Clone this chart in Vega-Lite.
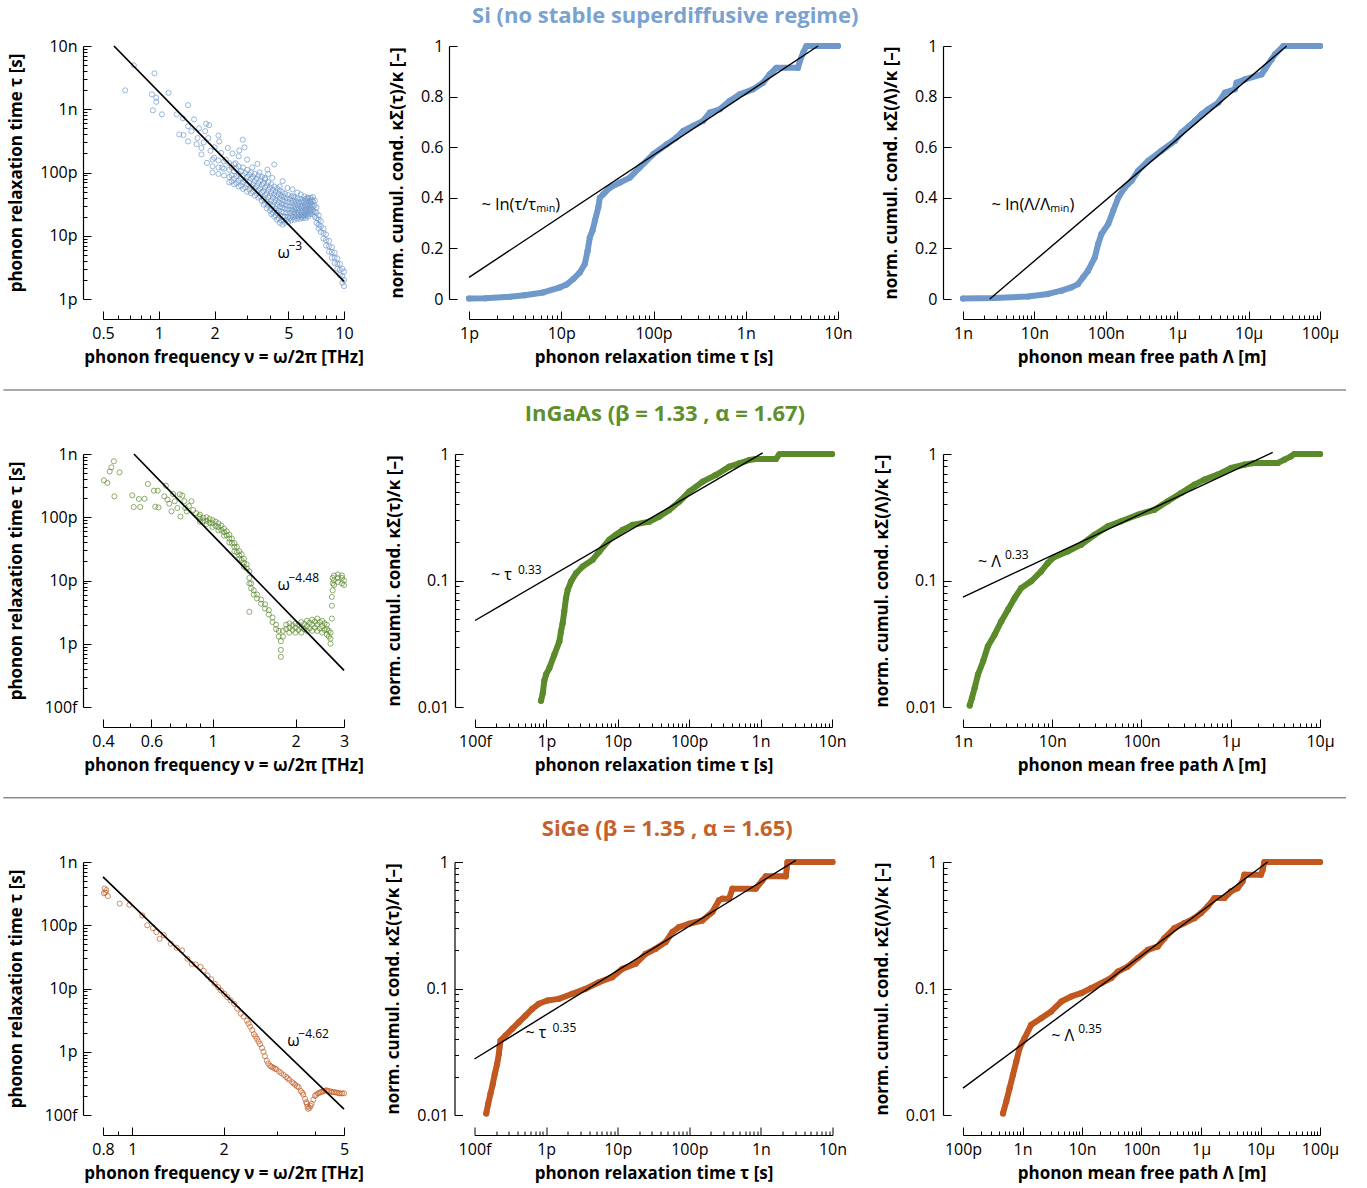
{
"$schema":"https://vega.github.io/schema/vega-lite/v6.json",
"background":"white",
"padding":{"left":2,"top":4,"right":0,"bottom":10},
"config":{
 "font":"Open Sans",
 "view":{"stroke":null},
 "axis":{"offset":20,"grid":false,"domainColor":"black","domainWidth":1.2,"tickColor":"black","tickWidth":1,"tickSize":-8,
  "labelFont":"Open Sans","labelFontSize":16,"labelColor":"black","labelPadding":14,"labelFlush":false,"labelOverlap":false,"labelBound":false,
  "titleFont":"Open Sans","titleFontSize":17,"titleFontWeight":"bold","titleColor":"black","titlePadding":8},
 "axisY":{"titlePadding":14},
 "text":{"font":"Open Sans","color":"black"}
},
"datasets":{
 "si_tau":[
  {"x":0.659,"y":1.99e-9},{"x":0.734,"y":4.94e-9},{"x":0.948,"y":3.69e-9},{"x":0.918,"y":1.72e-9},{"x":0.969,"y":1.52e-9},{"x":0.97,"y":1.31e-9},{"x":0.93,"y":9.6e-10},{"x":1.04,"y":8.3e-10},{"x":1.13,"y":1.82e-9},{"x":1.25,"y":8.3e-10},{"x":1.44,"y":1.16e-9},{"x":1.35,"y":7.2e-10},{"x":1.55,"y":6.9e-10},{"x":1.44,"y":5.4e-10},{"x":1.29,"y":4.0e-10},{"x":1.36,"y":3.9e-10},{"x":1.44,"y":3.1e-10},{"x":1.80,"y":5.9e-10},{"x":1.87,"y":5.6e-10},{"x":1.78,"y":4.5e-10},{"x":1.85,"y":3.5e-10},{"x":1.62,"y":3.5e-10},{"x":2.10,"y":3.85e-10},{"x":2.12,"y":3.1e-10},{"x":2.84,"y":3.3e-10},{"x":2.36,"y":2.45e-10},{"x":2.17,"y":2.04e-10},{"x":1.70,"y":2.45e-10},{"x":1.70,"y":1.93e-10},{"x":1.82,"y":1.42e-10},{"x":1.99,"y":1.71e-10},{"x":2.72,"y":2.23e-10},{"x":2.70,"y":1.8e-10},{"x":3.41,"y":1.37e-10},{"x":3.86,"y":1.11e-10},{"x":4.20,"y":1.34e-10},{"x":4.66,"y":7.3e-11},{"x":4.95,"y":5.7e-11},{"x":5.27,"y":5.4e-11},{"x":5.33,"y":4.2e-11},{"x":5.85,"y":4.5e-11},{"x":6.35,"y":4.0e-11},{"x":3.74,"y":8.2e-11},{"x":4.10,"y":8.2e-11},{"x":1.6,"y":2.8e-10},{"x":1.75,"y":3.0e-10},{"x":2.0,"y":2.5e-10},{"x":2.3,"y":1.6e-10},{"x":2.5,"y":2.0e-10},{"x":2.6,"y":1.4e-10},{"x":3.0,"y":1.6e-10},{"x":3.2,"y":1.2e-10},{"x":3.5,"y":1.0e-10},{"x":2.9,"y":2.5e-10},{"x":1.9,"y":2.2e-10},{"x":2.2,"y":1.2e-10},{"x":1.5,"y":4.5e-10},{"x":1.65,"y":5.0e-10},{"x":5.6,"y":4.8e-11},{"x":6.1,"y":4.2e-11},{"x":4.5,"y":6.0e-11},{"x":3.9,"y":9.5e-11},
  {"x":1.95,"y":1.6e-10},{"x":1.95,"y":1.25e-10},{"x":1.95,"y":1.0e-10},
  {"x":2.1,"y":1.55e-10},{"x":2.1,"y":1.2e-10},{"x":2.1,"y":9.5e-11},
  {"x":2.25,"y":1.5e-10},{"x":2.25,"y":1.15e-10},{"x":2.25,"y":9e-11},
  {"x":2.4,"y":1.4e-10},{"x":2.4,"y":1.1e-10},{"x":2.4,"y":8.5e-11},{"x":2.4,"y":7e-11},
  {"x":2.55,"y":1.35e-10},{"x":2.55,"y":1.05e-10},{"x":2.55,"y":8e-11},{"x":2.55,"y":6.5e-11},
  {"x":2.7,"y":1.25e-10},{"x":2.7,"y":9.5e-11},{"x":2.7,"y":7.5e-11},{"x":2.7,"y":6e-11},
  {"x":2.85,"y":1.2e-10},{"x":2.85,"y":9e-11},{"x":2.85,"y":7e-11},{"x":2.85,"y":5.5e-11},
  {"x":3.0,"y":1.1e-10},{"x":3.0,"y":8.5e-11},{"x":3.0,"y":6.5e-11},{"x":3.0,"y":5e-11},
  {"x":3.15,"y":1.0e-10},{"x":3.15,"y":8e-11},{"x":3.15,"y":6e-11},{"x":3.15,"y":4.7e-11},
  {"x":3.3,"y":9.5e-11},{"x":3.3,"y":7.3e-11},{"x":3.3,"y":5.6e-11},{"x":3.3,"y":4.3e-11},
  {"x":3.45,"y":9e-11},{"x":3.45,"y":6.8e-11},{"x":3.45,"y":5.2e-11},{"x":3.45,"y":4e-11},
  {"x":3.6,"y":8.5e-11},{"x":3.6,"y":6.3e-11},{"x":3.6,"y":4.8e-11},{"x":3.6,"y":3.6e-11},
  {"x":3.75,"y":7.8e-11},{"x":3.75,"y":5.8e-11},{"x":3.75,"y":4.4e-11},{"x":3.75,"y":3.3e-11},
  {"x":3.9,"y":7e-11},{"x":3.9,"y":5.3e-11},{"x":3.9,"y":4e-11},{"x":3.9,"y":3.0e-11},
  {"x":4.05,"y":6.5e-11},{"x":4.05,"y":4.8e-11},{"x":4.05,"y":3.6e-11},{"x":4.05,"y":2.7e-11},{"x":4.05,"y":2.2e-11},
  {"x":4.2,"y":6e-11},{"x":4.2,"y":4.5e-11},{"x":4.2,"y":3.4e-11},{"x":4.2,"y":2.5e-11},{"x":4.2,"y":2.0e-11},
  {"x":4.35,"y":5.6e-11},{"x":4.35,"y":4.2e-11},{"x":4.35,"y":3.1e-11},{"x":4.35,"y":2.3e-11},{"x":4.35,"y":1.8e-11},
  {"x":4.5,"y":5.2e-11},{"x":4.5,"y":3.9e-11},{"x":4.5,"y":2.9e-11},{"x":4.5,"y":2.1e-11},{"x":4.5,"y":1.6e-11},
  {"x":4.65,"y":4.9e-11},{"x":4.65,"y":3.7e-11},{"x":4.65,"y":2.8e-11},{"x":4.65,"y":2.0e-11},{"x":4.65,"y":1.5e-11},
  {"x":4.8,"y":4.6e-11},{"x":4.8,"y":3.5e-11},{"x":4.8,"y":2.7e-11},{"x":4.8,"y":2.0e-11},{"x":4.8,"y":1.6e-11},
  {"x":5.0,"y":4.4e-11},{"x":5.0,"y":3.4e-11},{"x":5.0,"y":2.6e-11},{"x":5.0,"y":2.0e-11},{"x":5.0,"y":1.65e-11},
  {"x":5.2,"y":4.2e-11},{"x":5.2,"y":3.3e-11},{"x":5.2,"y":2.6e-11},{"x":5.2,"y":2.1e-11},{"x":5.2,"y":1.75e-11},
  {"x":5.4,"y":4.0e-11},{"x":5.4,"y":3.2e-11},{"x":5.4,"y":2.6e-11},{"x":5.4,"y":2.15e-11},{"x":5.4,"y":1.8e-11},
  {"x":5.6,"y":3.9e-11},{"x":5.6,"y":3.1e-11},{"x":5.6,"y":2.55e-11},{"x":5.6,"y":2.15e-11},{"x":5.6,"y":1.85e-11},
  {"x":5.8,"y":3.8e-11},{"x":5.8,"y":3.0e-11},{"x":5.8,"y":2.5e-11},{"x":5.8,"y":2.1e-11},{"x":5.8,"y":1.85e-11},
  {"x":6.0,"y":3.7e-11},{"x":6.0,"y":3.0e-11},{"x":6.0,"y":2.5e-11},{"x":6.0,"y":2.1e-11},{"x":6.0,"y":1.9e-11},
  {"x":6.2,"y":3.8e-11},{"x":6.2,"y":3.1e-11},{"x":6.2,"y":2.6e-11},{"x":6.2,"y":2.2e-11},{"x":6.2,"y":1.9e-11},
  {"x":6.4,"y":3.9e-11},{"x":6.4,"y":3.2e-11},{"x":6.4,"y":2.7e-11},{"x":6.4,"y":2.3e-11},{"x":6.4,"y":2.0e-11},
  {"x":6.6,"y":4.0e-11},{"x":6.6,"y":3.4e-11},{"x":6.6,"y":2.8e-11},{"x":6.6,"y":2.4e-11},
  {"x":6.8,"y":4.1e-11},{"x":6.8,"y":3.5e-11},{"x":6.8,"y":2.9e-11},{"x":6.8,"y":2.4e-11},
  {"x":6.95,"y":3.6e-11},{"x":6.95,"y":3.0e-11},{"x":6.95,"y":2.4e-11},{"x":6.95,"y":2.0e-11},
  {"x":7.1,"y":2.8e-11},{"x":7.1,"y":2.3e-11},{"x":7.1,"y":1.9e-11},{"x":7.1,"y":1.6e-11},
  {"x":7.3,"y":2.1e-11},{"x":7.3,"y":1.8e-11},{"x":7.3,"y":1.5e-11},{"x":7.3,"y":1.3e-11},
  {"x":7.5,"y":1.7e-11},{"x":7.5,"y":1.4e-11},{"x":7.5,"y":1.15e-11},
  {"x":7.75,"y":1.3e-11},{"x":7.75,"y":1.1e-11},{"x":7.75,"y":9e-12},
  {"x":8.0,"y":1.05e-11},{"x":8.0,"y":8.5e-12},{"x":8.0,"y":7e-12},
  {"x":8.3,"y":8.3e-12},{"x":8.3,"y":6.8e-12},{"x":8.3,"y":5.6e-12},
  {"x":8.6,"y":6.6e-12},{"x":8.6,"y":5.5e-12},{"x":8.6,"y":4.5e-12},
  {"x":8.9,"y":5.4e-12},{"x":8.9,"y":4.5e-12},{"x":8.9,"y":3.7e-12},
  {"x":9.2,"y":4.4e-12},{"x":9.2,"y":3.6e-12},{"x":9.2,"y":3.0e-12},
  {"x":9.5,"y":3.6e-12},{"x":9.5,"y":2.9e-12},{"x":9.5,"y":2.4e-12},
  {"x":9.8,"y":3.0e-12},{"x":9.8,"y":2.3e-12},{"x":9.8,"y":1.8e-12},
  {"x":10.0,"y":2.7e-12},{"x":10.0,"y":2.0e-12},{"x":10.0,"y":1.6e-12},
  {"x":2.48,"y":1.2e-10},{"x":2.48,"y":9e-11},{"x":2.48,"y":7.2e-11},
  {"x":2.62,"y":1.15e-10},{"x":2.62,"y":8.7e-11},{"x":2.62,"y":6.8e-11},
  {"x":2.78,"y":1.05e-10},{"x":2.78,"y":8e-11},{"x":2.78,"y":6.2e-11},
  {"x":2.93,"y":9.8e-11},{"x":2.93,"y":7.5e-11},{"x":2.93,"y":5.8e-11},
  {"x":3.08,"y":9.2e-11},{"x":3.08,"y":7e-11},{"x":3.08,"y":5.4e-11},
  {"x":3.23,"y":8.5e-11},{"x":3.23,"y":6.5e-11},{"x":3.23,"y":5e-11},
  {"x":3.38,"y":8e-11},{"x":3.38,"y":6.1e-11},{"x":3.38,"y":4.6e-11},
  {"x":3.53,"y":7.4e-11},{"x":3.53,"y":5.6e-11},{"x":3.53,"y":4.2e-11},
  {"x":3.68,"y":6.8e-11},{"x":3.68,"y":5.1e-11},{"x":3.68,"y":3.9e-11},{"x":3.68,"y":3.1e-11},
  {"x":3.83,"y":6.3e-11},{"x":3.83,"y":4.7e-11},{"x":3.83,"y":3.5e-11},{"x":3.83,"y":2.7e-11},
  {"x":3.98,"y":5.8e-11},{"x":3.98,"y":4.3e-11},{"x":3.98,"y":3.2e-11},{"x":3.98,"y":2.5e-11},
  {"x":4.13,"y":5.3e-11},{"x":4.13,"y":4e-11},{"x":4.13,"y":3e-11},{"x":4.13,"y":2.3e-11},
  {"x":4.28,"y":5e-11},{"x":4.28,"y":3.7e-11},{"x":4.28,"y":2.7e-11},{"x":4.28,"y":2.1e-11},
  {"x":4.43,"y":4.6e-11},{"x":4.43,"y":3.4e-11},{"x":4.43,"y":2.5e-11},{"x":4.43,"y":1.9e-11},
  {"x":4.58,"y":4.3e-11},{"x":4.58,"y":3.2e-11},{"x":4.58,"y":2.4e-11},{"x":4.58,"y":1.75e-11},
  {"x":4.73,"y":4.1e-11},{"x":4.73,"y":3.1e-11},{"x":4.73,"y":2.35e-11},{"x":4.73,"y":1.75e-11},
  {"x":4.9,"y":3.9e-11},{"x":4.9,"y":3e-11},{"x":4.9,"y":2.3e-11},{"x":4.9,"y":1.8e-11},
  {"x":5.1,"y":3.8e-11},{"x":5.1,"y":2.9e-11},{"x":5.1,"y":2.3e-11},{"x":5.1,"y":1.9e-11},
  {"x":5.3,"y":3.6e-11},{"x":5.3,"y":2.9e-11},{"x":5.3,"y":2.35e-11},{"x":5.3,"y":1.95e-11},
  {"x":5.5,"y":3.5e-11},{"x":5.5,"y":2.8e-11},{"x":5.5,"y":2.3e-11},{"x":5.5,"y":2e-11},
  {"x":5.7,"y":3.4e-11},{"x":5.7,"y":2.75e-11},{"x":5.7,"y":2.3e-11},{"x":5.7,"y":2e-11},
  {"x":5.9,"y":3.4e-11},{"x":5.9,"y":2.75e-11},{"x":5.9,"y":2.3e-11},{"x":5.9,"y":2e-11},
  {"x":6.1,"y":3.4e-11},{"x":6.1,"y":2.8e-11},{"x":6.1,"y":2.35e-11},{"x":6.1,"y":2.05e-11},
  {"x":6.3,"y":3.5e-11},{"x":6.3,"y":2.9e-11},{"x":6.3,"y":2.45e-11},{"x":6.3,"y":2.1e-11},
  {"x":6.5,"y":3.6e-11},{"x":6.5,"y":3e-11},{"x":6.5,"y":2.55e-11},{"x":6.5,"y":2.2e-11},
  {"x":6.7,"y":3.7e-11},{"x":6.7,"y":3.1e-11},{"x":6.7,"y":2.6e-11},{"x":6.7,"y":2.2e-11}
 ],
 "si_ct":[
  {"x":1e-12,"y":0.002},{"x":1.5e-12,"y":0.003},{"x":2.78e-12,"y":0.009},{"x":4e-12,"y":0.015},{"x":6.38e-12,"y":0.026},{"x":9.7e-12,"y":0.046},{"x":11.4e-12,"y":0.057},{"x":13.5e-12,"y":0.079},{"x":15.9e-12,"y":0.105},{"x":18e-12,"y":0.138},{"x":19.3e-12,"y":0.19},{"x":20.4e-12,"y":0.243},{"x":21.8e-12,"y":0.27},{"x":23.2e-12,"y":0.31},{"x":25.2e-12,"y":0.362},{"x":26.2e-12,"y":0.40},{"x":28.5e-12,"y":0.414},{"x":33.7e-12,"y":0.44},{"x":43.2e-12,"y":0.46},{"x":55.4e-12,"y":0.48},{"x":71.1e-12,"y":0.52},{"x":99e-12,"y":0.572},{"x":138e-12,"y":0.61},{"x":177e-12,"y":0.638},{"x":210e-12,"y":0.664},{"x":269e-12,"y":0.684},{"x":345e-12,"y":0.704},{"x":408e-12,"y":0.737},{"x":523e-12,"y":0.75},{"x":671e-12,"y":0.783},{"x":861e-12,"y":0.809},{"x":1.2e-9,"y":0.829},{"x":1.54e-9,"y":0.855},{"x":1.82e-9,"y":0.888},{"x":2.15e-9,"y":0.914},{"x":3.69e-9,"y":0.914},{"x":3.85e-9,"y":0.94},{"x":4.2e-9,"y":0.974},{"x":4.54e-9,"y":1.0},{"x":1e-8,"y":1.0}
 ],
 "si_cl":[
  {"x":1e-9,"y":0.002},{"x":2.78e-9,"y":0.004},{"x":8.15e-9,"y":0.01},{"x":15.5e-9,"y":0.02},{"x":23.9e-9,"y":0.033},{"x":33e-9,"y":0.046},{"x":40.9e-9,"y":0.059},{"x":48.1e-9,"y":0.086},{"x":56.5e-9,"y":0.112},{"x":70.1e-9,"y":0.164},{"x":78.1e-9,"y":0.217},{"x":86.9e-9,"y":0.257},{"x":108e-9,"y":0.296},{"x":127e-9,"y":0.349},{"x":149e-9,"y":0.40},{"x":185e-9,"y":0.441},{"x":229e-9,"y":0.467},{"x":284e-9,"y":0.507},{"x":392e-9,"y":0.546},{"x":603e-9,"y":0.586},{"x":927e-9,"y":0.625},{"x":1.15e-6,"y":0.658},{"x":1.77e-6,"y":0.704},{"x":2.19e-6,"y":0.73},{"x":2.72e-6,"y":0.75},{"x":3.76e-6,"y":0.776},{"x":4.66e-6,"y":0.816},{"x":6.43e-6,"y":0.829},{"x":6.79e-6,"y":0.855},{"x":8.89e-6,"y":0.868},{"x":15.2e-6,"y":0.888},{"x":16.9e-6,"y":0.908},{"x":21e-6,"y":0.947},{"x":23.4e-6,"y":0.967},{"x":30.6e-6,"y":1.0},{"x":1e-4,"y":1.0}
 ],
 "in_tau":[
  {"x":0.403,"y":3.84e-10},{"x":0.415,"y":3.49e-10},{"x":0.423,"y":5.3e-10},{"x":0.429,"y":6.15e-10},{"x":0.438,"y":7.66e-10},{"x":0.459,"y":5.13e-10},{"x":0.44,"y":2.14e-10},{"x":0.511,"y":2.22e-10},{"x":0.54,"y":1.94e-10},{"x":0.566,"y":1.96e-10},{"x":0.546,"y":1.45e-10},{"x":0.517,"y":1.45e-10},{"x":0.582,"y":3.36e-10},{"x":0.612,"y":2.63e-10},{"x":0.632,"y":2.63e-10},{"x":0.619,"y":1.47e-10},{"x":0.636,"y":1.43e-10},{"x":0.668,"y":2.14e-10},{"x":0.677,"y":3.16e-10},{"x":0.696,"y":1.64e-10},{"x":0.709,"y":1.24e-10},{"x":0.686,"y":1.9e-10},{"x":0.719,"y":2.33e-10},{"x":0.729,"y":1.79e-10},{"x":0.745,"y":1.4e-10},{"x":0.764,"y":1.03e-10},{"x":0.776,"y":2.2e-10},{"x":0.796,"y":1.4e-10},{"x":0.806,"y":1.24e-10},{"x":0.838,"y":1.79e-10},{"x":0.871,"y":1.16e-10},{"x":0.894,"y":1.03e-10},{"x":0.76,"y":2.3e-10},{"x":0.79,"y":1.8e-10},{"x":0.82,"y":1.5e-10},{"x":0.85,"y":1.3e-10},{"x":1.36,"y":3.2e-12},
  {"x":0.9,"y":1.1e-10},{"x":0.9,"y":9.5e-11},{"x":0.9,"y":8.5e-11},
  {"x":0.95,"y":1.0e-10},{"x":0.95,"y":8.8e-11},{"x":0.95,"y":7.8e-11},
  {"x":1.0,"y":9e-11},{"x":1.0,"y":8e-11},{"x":1.0,"y":7e-11},
  {"x":1.05,"y":8e-11},{"x":1.05,"y":7e-11},{"x":1.05,"y":6.2e-11},
  {"x":1.1,"y":6.6e-11},{"x":1.1,"y":5.8e-11},{"x":1.1,"y":5.1e-11},
  {"x":1.15,"y":5.3e-11},{"x":1.15,"y":4.6e-11},{"x":1.15,"y":4.0e-11},
  {"x":1.2,"y":3.9e-11},{"x":1.2,"y":3.4e-11},{"x":1.2,"y":2.9e-11},
  {"x":1.25,"y":2.9e-11},{"x":1.25,"y":2.5e-11},{"x":1.25,"y":2.2e-11},
  {"x":1.3,"y":2.2e-11},{"x":1.3,"y":1.9e-11},{"x":1.3,"y":1.65e-11},
  {"x":1.33,"y":1.8e-11},{"x":1.33,"y":1.55e-11},
  {"x":1.36,"y":1.4e-11},{"x":1.36,"y":1.1e-11},{"x":1.36,"y":9e-12},
  {"x":1.38,"y":9e-12},{"x":1.38,"y":7.5e-12},
  {"x":1.41,"y":7e-12},{"x":1.41,"y":6e-12},
  {"x":1.45,"y":6e-12},{"x":1.45,"y":5.2e-12},
  {"x":1.5,"y":5e-12},{"x":1.5,"y":4.3e-12},
  {"x":1.55,"y":4.2e-12},{"x":1.55,"y":3.6e-12},
  {"x":1.6,"y":3.4e-12},{"x":1.6,"y":2.9e-12},
  {"x":1.65,"y":2.6e-12},{"x":1.65,"y":2.2e-12},
  {"x":1.7,"y":2.0e-12},{"x":1.7,"y":1.7e-12},
  {"x":1.74,"y":1.6e-12},{"x":1.74,"y":1.3e-12},
  {"x":1.77,"y":1.1e-12},{"x":1.77,"y":8e-13},{"x":1.77,"y":6.2e-13},
  {"x":1.8,"y":1.3e-12},{"x":1.8,"y":1.6e-12},
  {"x":1.85,"y":1.7e-12},{"x":1.85,"y":2.0e-12},
  {"x":1.9,"y":1.8e-12},{"x":1.9,"y":2.1e-12},{"x":1.9,"y":1.5e-12},
  {"x":2.0,"y":1.8e-12},{"x":2.0,"y":2.1e-12},{"x":2.0,"y":1.5e-12},
  {"x":2.1,"y":1.8e-12},{"x":2.1,"y":2.2e-12},{"x":2.1,"y":1.5e-12},
  {"x":2.2,"y":1.9e-12},{"x":2.2,"y":2.3e-12},{"x":2.2,"y":1.6e-12},
  {"x":2.3,"y":2.0e-12},{"x":2.3,"y":2.4e-12},{"x":2.3,"y":1.6e-12},
  {"x":2.4,"y":2.0e-12},{"x":2.4,"y":2.5e-12},{"x":2.4,"y":1.6e-12},
  {"x":2.5,"y":1.9e-12},{"x":2.5,"y":2.3e-12},{"x":2.5,"y":1.5e-12},
  {"x":2.6,"y":1.7e-12},{"x":2.6,"y":2.0e-12},{"x":2.6,"y":1.4e-12},
  {"x":2.68,"y":1.2e-12},{"x":2.68,"y":1.0e-12},{"x":2.68,"y":1.5e-12},
  {"x":2.71,"y":2.5e-12},{"x":2.71,"y":4e-12},{"x":2.71,"y":5.5e-12},
  {"x":2.73,"y":7e-12},{"x":2.73,"y":9e-12},{"x":2.73,"y":1.1e-11},
  {"x":2.76,"y":1.2e-11},{"x":2.76,"y":1.0e-11},{"x":2.76,"y":8.5e-12},
  {"x":2.85,"y":1.1e-11},{"x":2.85,"y":9.5e-12},{"x":2.85,"y":1.25e-11},
  {"x":2.95,"y":1.1e-11},{"x":2.95,"y":9e-12},{"x":2.95,"y":1.2e-11},
  {"x":3.0,"y":1.0e-11},{"x":3.0,"y":8.5e-12},
  {"x":0.925,"y":9.8e-11},{"x":0.925,"y":8.6e-11},{"x":0.975,"y":9.4e-11},{"x":0.975,"y":8.2e-11},{"x":1.025,"y":8.5e-11},{"x":1.025,"y":7.3e-11},{"x":1.075,"y":7.4e-11},{"x":1.075,"y":6.3e-11},{"x":1.125,"y":6e-11},{"x":1.125,"y":5.2e-11},{"x":1.175,"y":4.6e-11},{"x":1.175,"y":3.9e-11},{"x":1.225,"y":3.4e-11},{"x":1.225,"y":2.8e-11},{"x":1.275,"y":2.6e-11},{"x":1.275,"y":2.1e-11},
  {"x":1.95,"y":1.95e-12},{"x":1.95,"y":1.65e-12},{"x":2.05,"y":2.0e-12},{"x":2.05,"y":1.65e-12},{"x":2.15,"y":2.05e-12},{"x":2.15,"y":1.7e-12},{"x":2.25,"y":2.15e-12},{"x":2.25,"y":1.75e-12},{"x":2.35,"y":2.25e-12},{"x":2.35,"y":1.8e-12},{"x":2.45,"y":2.2e-12},{"x":2.45,"y":1.75e-12},{"x":2.55,"y":2.1e-12},{"x":2.55,"y":1.65e-12},{"x":2.64,"y":1.6e-12},{"x":2.64,"y":1.3e-12}
 ],
 "in_ct":[
  {"x":0.84e-12,"y":0.0112},{"x":0.887e-12,"y":0.0127},{"x":0.935e-12,"y":0.0161},{"x":0.987e-12,"y":0.018},{"x":1.1e-12,"y":0.0203},{"x":1.29e-12,"y":0.0259},{"x":1.52e-12,"y":0.033},{"x":1.6e-12,"y":0.0396},{"x":1.69e-12,"y":0.046},{"x":1.78e-12,"y":0.057},{"x":1.88e-12,"y":0.0726},{"x":1.99e-12,"y":0.0844},{"x":2.21e-12,"y":0.098},{"x":2.6e-12,"y":0.114},{"x":3.22e-12,"y":0.129},{"x":4.45e-12,"y":0.146},{"x":5.5e-12,"y":0.169},{"x":7.6e-12,"y":0.21},{"x":9.4e-12,"y":0.23},{"x":11.7e-12,"y":0.251},{"x":16.1e-12,"y":0.275},{"x":27.7e-12,"y":0.292},{"x":38.2e-12,"y":0.32},{"x":52.7e-12,"y":0.361},{"x":72.8e-12,"y":0.421},{"x":100e-12,"y":0.504},{"x":155e-12,"y":0.605},{"x":237e-12,"y":0.683},{"x":365e-12,"y":0.794},{"x":504e-12,"y":0.844},{"x":695e-12,"y":0.897},{"x":862e-12,"y":0.913},{"x":1.64e-9,"y":0.913},{"x":1.83e-9,"y":0.994},{"x":2.04e-9,"y":1.0},{"x":1e-8,"y":1.0}
 ],
 "in_cl":[
  {"x":1.19e-9,"y":0.0103},{"x":1.26e-9,"y":0.0118},{"x":1.35e-9,"y":0.0141},{"x":1.47e-9,"y":0.018},{"x":1.68e-9,"y":0.023},{"x":1.9e-9,"y":0.0302},{"x":2.26e-9,"y":0.0373},{"x":2.68e-9,"y":0.0475},{"x":3.19e-9,"y":0.0588},{"x":3.79e-9,"y":0.0727},{"x":4.5e-9,"y":0.0873},{"x":5.8e-9,"y":0.0985},{"x":7.5e-9,"y":0.118},{"x":8.9e-9,"y":0.137},{"x":10.2e-9,"y":0.151},{"x":15e-9,"y":0.17},{"x":21.1e-9,"y":0.192},{"x":29.8e-9,"y":0.23},{"x":42e-9,"y":0.268},{"x":59e-9,"y":0.294},{"x":91e-9,"y":0.331},{"x":140e-9,"y":0.363},{"x":197e-9,"y":0.423},{"x":278e-9,"y":0.492},{"x":392e-9,"y":0.573},{"x":507e-9,"y":0.627},{"x":714e-9,"y":0.687},{"x":1.01e-6,"y":0.775},{"x":1.42e-6,"y":0.824},{"x":1.84e-6,"y":0.849},{"x":3.36e-6,"y":0.849},{"x":3.99e-6,"y":0.902},{"x":4.73e-6,"y":0.958},{"x":5.16e-6,"y":1.0},{"x":1e-5,"y":1.0}
 ],
 "sg_tau":[
  {"x":0.81,"y":3.8e-10},{"x":0.805,"y":3.2e-10},{"x":0.815,"y":3.3e-10},{"x":0.82,"y":3.6e-10},{"x":0.83,"y":2.9e-10},{"x":0.908,"y":2.2e-10},{"x":0.978,"y":2.1e-10},{"x":1.078,"y":1.43e-10},{"x":1.12,"y":1.0e-10},{"x":1.17,"y":9e-11},{"x":1.2,"y":7.8e-11},{"x":1.23,"y":6.1e-11},{"x":1.27,"y":7.0e-11},{"x":1.34,"y":5.1e-11},{"x":1.40,"y":4.4e-11},{"x":1.46,"y":4.0e-11},{"x":1.52,"y":2.95e-11},{"x":1.57,"y":2.45e-11},{"x":1.62,"y":2.4e-11},{"x":1.68,"y":2.2e-11},{"x":1.72,"y":1.9e-11},{"x":1.77,"y":1.6e-11},{"x":1.82,"y":1.4e-11},{"x":1.87,"y":1.19e-11},{"x":1.92,"y":1.05e-11},{"x":1.96,"y":9.3e-12},{"x":2.01,"y":8.3e-12},{"x":2.06,"y":7.3e-12},{"x":2.11,"y":6.5e-12},{"x":2.17,"y":5.7e-12},{"x":2.22,"y":4.8e-12},{"x":2.28,"y":4.0e-12},{"x":2.33,"y":3.6e-12},{"x":2.39,"y":3.1e-12},{"x":2.42,"y":2.8e-12},{"x":2.45,"y":2.5e-12},{"x":2.49,"y":2.2e-12},{"x":2.52,"y":1.9e-12},{"x":2.55,"y":1.75e-12},{"x":2.58,"y":1.6e-12},{"x":2.61,"y":1.45e-12},{"x":2.64,"y":1.32e-12},{"x":2.68,"y":1.15e-12},{"x":2.71,"y":1.0e-12},{"x":2.74,"y":8.5e-13},{"x":2.78,"y":7.2e-13},{"x":2.81,"y":6.5e-13},{"x":2.85,"y":6.0e-13},{"x":2.88,"y":5.8e-13},{"x":2.92,"y":5.6e-13},{"x":2.96,"y":5.4e-13},{"x":2.99,"y":5.3e-13},{"x":3.05,"y":4.9e-13},{"x":3.1,"y":4.6e-13},{"x":3.16,"y":4.3e-13},{"x":3.22,"y":4.0e-13},{"x":3.26,"y":3.8e-13},{"x":3.3,"y":3.6e-13},{"x":3.37,"y":3.3e-13},{"x":3.41,"y":3.15e-13},{"x":3.45,"y":3.0e-13},{"x":3.5,"y":2.85e-13},{"x":3.54,"y":2.75e-13},{"x":3.6,"y":2.4e-13},{"x":3.64,"y":2.25e-13},{"x":3.67,"y":2.1e-13},{"x":3.72,"y":1.8e-13},{"x":3.75,"y":1.6e-13},{"x":3.77,"y":1.5e-13},{"x":3.79,"y":1.35e-13},{"x":3.81,"y":1.25e-13},{"x":3.85,"y":1.3e-13},{"x":3.88,"y":1.4e-13},{"x":3.91,"y":1.5e-13},{"x":3.96,"y":1.75e-13},{"x":4.01,"y":2.0e-13},{"x":4.05,"y":2.1e-13},{"x":4.1,"y":2.2e-13},{"x":4.15,"y":2.25e-13},{"x":4.2,"y":2.3e-13},{"x":4.25,"y":2.35e-13},{"x":4.3,"y":2.4e-13},{"x":4.35,"y":2.45e-13},{"x":4.41,"y":2.43e-13},{"x":4.46,"y":2.38e-13},{"x":4.52,"y":2.35e-13},{"x":4.57,"y":2.3e-13},{"x":4.63,"y":2.3e-13},{"x":4.69,"y":2.28e-13},{"x":4.75,"y":2.25e-13},{"x":4.81,"y":2.2e-13},{"x":4.87,"y":2.2e-13},{"x":4.93,"y":2.2e-13},{"x":5.0,"y":2.2e-13}
 ],
 "sg_ct":[
  {"x":0.146e-12,"y":0.0103},{"x":0.155e-12,"y":0.0122},{"x":0.167e-12,"y":0.0147},{"x":0.18e-12,"y":0.0176},{"x":0.192e-12,"y":0.0211},{"x":0.207e-12,"y":0.0253},{"x":0.219e-12,"y":0.0304},{"x":0.224e-12,"y":0.0343},{"x":0.231e-12,"y":0.0388},{"x":0.271e-12,"y":0.0425},{"x":0.336e-12,"y":0.048},{"x":0.417e-12,"y":0.0542},{"x":0.517e-12,"y":0.0611},{"x":0.64e-12,"y":0.069},{"x":0.79e-12,"y":0.0757},{"x":1.04e-12,"y":0.0804},{"x":1.51e-12,"y":0.0828},{"x":2.32e-12,"y":0.0908},{"x":3.56e-12,"y":0.0994},{"x":5.47e-12,"y":0.112},{"x":8.4e-12,"y":0.123},{"x":11.6e-12,"y":0.143},{"x":17.8e-12,"y":0.157},{"x":24.6e-12,"y":0.188},{"x":33.9e-12,"y":0.206},{"x":46.8e-12,"y":0.233},{"x":58e-12,"y":0.279},{"x":71.8e-12,"y":0.306},{"x":99e-12,"y":0.325},{"x":152e-12,"y":0.345},{"x":210e-12,"y":0.402},{"x":260e-12,"y":0.498},{"x":290e-12,"y":0.513},{"x":360e-12,"y":0.513},{"x":400e-12,"y":0.615},{"x":848e-12,"y":0.615},{"x":1.05e-9,"y":0.716},{"x":1.17e-9,"y":0.77},{"x":2.23e-9,"y":0.77},{"x":2.35e-9,"y":1.0},{"x":1e-8,"y":1.0}
 ],
 "sg_cl":[
  {"x":0.47e-9,"y":0.0103},{"x":0.534e-9,"y":0.0128},{"x":0.607e-9,"y":0.0163},{"x":0.69e-9,"y":0.0207},{"x":0.785e-9,"y":0.0264},{"x":0.893e-9,"y":0.0337},{"x":1.08e-9,"y":0.0404},{"x":1.4e-9,"y":0.0516},{"x":2.06e-9,"y":0.0582},{"x":3.04e-9,"y":0.0658},{"x":4.48e-9,"y":0.0789},{"x":6.6e-9,"y":0.0865},{"x":9.7e-9,"y":0.0918},{"x":14.3e-9,"y":0.1007},{"x":21e-9,"y":0.11},{"x":30.9e-9,"y":0.121},{"x":40e-9,"y":0.136},{"x":58.9e-9,"y":0.149},{"x":86.7e-9,"y":0.174},{"x":128e-9,"y":0.202},{"x":188e-9,"y":0.215},{"x":243e-9,"y":0.25},{"x":358e-9,"y":0.3},{"x":526e-9,"y":0.329},{"x":775e-9,"y":0.36},{"x":1.0e-6,"y":0.395},{"x":1.3e-6,"y":0.446},{"x":1.68e-6,"y":0.519},{"x":2.47e-6,"y":0.519},{"x":3.2e-6,"y":0.586},{"x":4.14e-6,"y":0.622},{"x":5.01e-6,"y":0.703},{"x":5.36e-6,"y":0.794},{"x":10.2e-6,"y":0.794},{"x":10.9e-6,"y":0.87},{"x":11.6e-6,"y":1.0},{"x":1e-4,"y":1.0}
 ]
},
"vconcat":[
 {
  "title":{"text":"Si (no stable superdiffusive regime)","color":"#7aa2d0","fontSize":22,"fontWeight":"bold","anchor":"middle","dx":-8,"offset":10.5},
  "bounds":"flush","spacing":125,
  "hconcat":[
   {"width":241,"height":253,
    "layer":[
     {"data":{"name":"si_tau"},"mark":{"type":"point","shape":"circle","filled":false,"size":26,"strokeWidth":1,"color":"#6f98cb"},
      "encoding":{
       "x":{"field":"x","type":"quantitative","scale":{"type":"log","domain":[0.5,10],"nice":false},"axis":{"orient":"bottom","values":[0.5,1,2,5,10],"format":"~g","title":"phonon frequency ν = ω/2π [THz]"}},
       "y":{"field":"y","type":"quantitative","scale":{"type":"log","domain":[1e-12,1e-8],"nice":false},"axis":{"orient":"left","values":[1e-12,1e-11,1e-10,1e-9,1e-8],"format":"~s","title":"phonon relaxation time τ [s]"}}}},
     {"data":{"values":[{"x":0.573,"y":1e-8},{"x":10,"y":1.9e-12}]},"mark":{"type":"line","color":"black","strokeWidth":1.7},
      "encoding":{
       "x":{"field":"x","type":"quantitative","scale":{"type":"log","domain":[0.5,10],"nice":false},"axis":{"orient":"bottom","values":[0.6,0.7,0.8,0.9,3,4,6,7,8,9],"labels":false,"domain":false,"tickSize":-4,"title":null}},
       "y":{"field":"y","type":"quantitative","scale":{"type":"log","domain":[1e-12,1e-8],"nice":false},"axis":{"orient":"left","values":[2e-12,3e-12,4e-12,5e-12,6e-12,7e-12,8e-12,9e-12,2e-11,3e-11,4e-11,5e-11,6e-11,7e-11,8e-11,9e-11,2e-10,3e-10,4e-10,5e-10,6e-10,7e-10,8e-10,9e-10,2e-9,3e-9,4e-9,5e-9,6e-9,7e-9,8e-9,9e-9],"labels":false,"domain":false,"tickSize":-4,"title":null}}}},
     {"data":{"values":[{"x":4.37,"y":5.4e-12,"a":"ω","b":"−3"}]},"mark":{"type":"text","align":"left","baseline":"middle","fontSize":16},
      "encoding":{"x":{"field":"x","type":"quantitative","scale":{"type":"log"},"axis":null},"y":{"field":"y","type":"quantitative","scale":{"type":"log"},"axis":null},"text":{"field":"a"}}},
     {"data":{"values":[{"x":4.37,"y":5.4e-12,"a":"ω","b":"−3"}]},"mark":{"type":"text","align":"left","baseline":"middle","fontSize":12,"dx":11,"dy":-7},
      "encoding":{"x":{"field":"x","type":"quantitative","scale":{"type":"log"},"axis":null},"y":{"field":"y","type":"quantitative","scale":{"type":"log"},"axis":null},"text":{"field":"b"}}}
    ],
    "resolve":{"axis":{"x":"independent","y":"independent"}}},
   {"width":369,"height":253,
    "layer":[
     {"data":{"name":"si_ct"},"mark":{"type":"line","color":"#6f98cb","strokeWidth":6,"strokeCap":"round","strokeJoin":"round"},
      "encoding":{
       "x":{"field":"x","type":"quantitative","scale":{"type":"log","domain":[1e-12,1e-8],"nice":false},"axis":{"orient":"bottom","values":[1e-12,1e-11,1e-10,1e-9,1e-8],"format":"~s","title":"phonon relaxation time τ [s]"}},
       "y":{"field":"y","type":"quantitative","scale":{"domain":[0,1],"nice":false},"axis":{"orient":"left","values":[0,0.2,0.4,0.6,0.8,1],"format":"~g","title":"norm. cumul. cond. κΣ(τ)/κ [–]"}}}},
     {"data":{"name":"si_ct"},"mark":{"type":"circle","color":"#6f98cb","size":38,"opacity":1},
      "encoding":{"x":{"field":"x","type":"quantitative","scale":{"type":"log"},"axis":null},"y":{"field":"y","type":"quantitative","axis":null}}},
     {"data":{"values":[{"x":1e-12,"y":0.0855},{"x":6.07e-9,"y":1.0}]},"mark":{"type":"line","color":"black","strokeWidth":1.4},
      "encoding":{
       "x":{"field":"x","type":"quantitative","scale":{"type":"log","domain":[1e-12,1e-8],"nice":false},"axis":{"orient":"bottom","values":[2e-12,3e-12,4e-12,5e-12,6e-12,7e-12,8e-12,9e-12,2e-11,3e-11,4e-11,5e-11,6e-11,7e-11,8e-11,9e-11,2e-10,3e-10,4e-10,5e-10,6e-10,7e-10,8e-10,9e-10,2e-9,3e-9,4e-9,5e-9,6e-9,7e-9,8e-9,9e-9],"labels":false,"domain":false,"tickSize":-4,"title":null}},
       "y":{"field":"y","type":"quantitative","axis":null}}},
     {"data":{"values":[{"x":1.37e-12,"y":0.372,"a":"~ ln(τ/τₘᵢₙ)"}]},"mark":{"type":"text","align":"left","baseline":"middle","fontSize":16.5},
      "encoding":{"x":{"field":"x","type":"quantitative","scale":{"type":"log"},"axis":null},"y":{"field":"y","type":"quantitative","axis":null},"text":{"field":"a"}}}
    ],
    "resolve":{"axis":{"x":"independent","y":"independent"}}},
   {"width":357,"height":253,
    "layer":[
     {"data":{"name":"si_cl"},"mark":{"type":"line","color":"#6f98cb","strokeWidth":6,"strokeCap":"round","strokeJoin":"round"},
      "encoding":{
       "x":{"field":"x","type":"quantitative","scale":{"type":"log","domain":[1e-9,1e-4],"nice":false},"axis":{"orient":"bottom","values":[1e-9,1e-8,1e-7,1e-6,1e-5,1e-4],"format":"~s","title":"phonon mean free path Λ [m]"}},
       "y":{"field":"y","type":"quantitative","scale":{"domain":[0,1],"nice":false},"axis":{"orient":"left","values":[0,0.2,0.4,0.6,0.8,1],"format":"~g","title":"norm. cumul. cond. κΣ(Λ)/κ [–]"}}}},
     {"data":{"name":"si_cl"},"mark":{"type":"circle","color":"#6f98cb","size":38,"opacity":1},
      "encoding":{"x":{"field":"x","type":"quantitative","scale":{"type":"log"},"axis":null},"y":{"field":"y","type":"quantitative","axis":null}}},
     {"data":{"values":[{"x":2.37e-9,"y":0},{"x":34.1e-6,"y":1.0}]},"mark":{"type":"line","color":"black","strokeWidth":1.4},
      "encoding":{
       "x":{"field":"x","type":"quantitative","scale":{"type":"log","domain":[1e-9,1e-4],"nice":false},"axis":{"orient":"bottom","values":[2e-9,3e-9,4e-9,5e-9,6e-9,7e-9,8e-9,9e-9,2e-8,3e-8,4e-8,5e-8,6e-8,7e-8,8e-8,9e-8,2e-7,3e-7,4e-7,5e-7,6e-7,7e-7,8e-7,9e-7,2e-6,3e-6,4e-6,5e-6,6e-6,7e-6,8e-6,9e-6,2e-5,3e-5,4e-5,5e-5,6e-5,7e-5,8e-5,9e-5],"labels":false,"domain":false,"tickSize":-4,"title":null}},
       "y":{"field":"y","type":"quantitative","axis":null}}},
     {"data":{"values":[{"x":2.5e-9,"y":0.372,"a":"~ ln(Λ/Λₘᵢₙ)"}]},"mark":{"type":"text","align":"left","baseline":"middle","fontSize":16.5},
      "encoding":{"x":{"field":"x","type":"quantitative","scale":{"type":"log"},"axis":null},"y":{"field":"y","type":"quantitative","axis":null},"text":{"field":"a"}}}
    ],
    "resolve":{"axis":{"x":"independent","y":"independent"}}}
  ]
 },
 {"width":1243,"height":13,"data":{"values":[{"divider":"row 1 / row 2"}]},"mark":{"type":"rule","color":"#8c8c8c","strokeWidth":1.5},
  "encoding":{"y":{"datum":0,"type":"quantitative","scale":{"domain":[0,1]},"axis":null},
   "x":{"datum":-0.0802,"type":"quantitative","scale":{"domain":[0,1]},"axis":null},"x2":{"datum":1}}},
 {
  "title":{"text":"InGaAs (β = 1.33 , α = 1.67)","color":"#5e8f2d","fontSize":22,"fontWeight":"bold","anchor":"middle","dx":-6,"offset":20},
  "bounds":"flush","spacing":131,
  "hconcat":[
   {"width":241,"height":253,
    "layer":[
     {"data":{"name":"in_tau"},"mark":{"type":"point","shape":"circle","filled":false,"size":26,"strokeWidth":1,"color":"#5b8a2b"},
      "encoding":{
       "x":{"field":"x","type":"quantitative","scale":{"type":"log","domain":[0.4,3],"nice":false},"axis":{"orient":"bottom","values":[0.4,0.6,1,2,3],"format":"~g","title":"phonon frequency ν = ω/2π [THz]"}},
       "y":{"field":"y","type":"quantitative","scale":{"type":"log","domain":[1e-13,1e-9],"nice":false},"axis":{"orient":"left","values":[1e-13,1e-12,1e-11,1e-10,1e-9],"format":"~s","title":"phonon relaxation time τ [s]"}}}},
     {"data":{"values":[{"x":0.518,"y":1e-9},{"x":3,"y":3.8e-13}]},"mark":{"type":"line","color":"black","strokeWidth":1.7},
      "encoding":{
       "x":{"field":"x","type":"quantitative","scale":{"type":"log","domain":[0.4,3],"nice":false},"axis":{"orient":"bottom","values":[0.5,0.7,0.8,0.9],"labels":false,"domain":false,"tickSize":-4,"title":null}},
       "y":{"field":"y","type":"quantitative","scale":{"type":"log","domain":[1e-13,1e-9],"nice":false},"axis":{"orient":"left","values":[2e-13,3e-13,4e-13,5e-13,6e-13,7e-13,8e-13,9e-13,2e-12,3e-12,4e-12,5e-12,6e-12,7e-12,8e-12,9e-12,2e-11,3e-11,4e-11,5e-11,6e-11,7e-11,8e-11,9e-11,2e-10,3e-10,4e-10,5e-10,6e-10,7e-10,8e-10,9e-10],"labels":false,"domain":false,"tickSize":-4,"title":null}}}},
     {"data":{"values":[{"x":1.72,"y":8.4e-12,"a":"ω","b":"−4.48"}]},"mark":{"type":"text","align":"left","baseline":"middle","fontSize":16},
      "encoding":{"x":{"field":"x","type":"quantitative","scale":{"type":"log"},"axis":null},"y":{"field":"y","type":"quantitative","scale":{"type":"log"},"axis":null},"text":{"field":"a"}}},
     {"data":{"values":[{"x":1.72,"y":8.4e-12,"a":"ω","b":"−4.48"}]},"mark":{"type":"text","align":"left","baseline":"middle","fontSize":12,"dx":11,"dy":-7},
      "encoding":{"x":{"field":"x","type":"quantitative","scale":{"type":"log"},"axis":null},"y":{"field":"y","type":"quantitative","scale":{"type":"log"},"axis":null},"text":{"field":"b"}}}
    ],
    "resolve":{"axis":{"x":"independent","y":"independent"}}},
   {"width":357,"height":253,
    "layer":[
     {"data":{"name":"in_ct"},"mark":{"type":"line","color":"#5b8a2b","strokeWidth":6,"strokeCap":"round","strokeJoin":"round"},
      "encoding":{
       "x":{"field":"x","type":"quantitative","scale":{"type":"log","domain":[1e-13,1e-8],"nice":false},"axis":{"orient":"bottom","values":[1e-13,1e-12,1e-11,1e-10,1e-9,1e-8],"format":"~s","title":"phonon relaxation time τ [s]"}},
       "y":{"field":"y","type":"quantitative","scale":{"type":"log","domain":[0.01,1],"nice":false},"axis":{"orient":"left","values":[0.01,0.1,1],"format":"~g","title":"norm. cumul. cond. κΣ(τ)/κ [–]"}}}},
     {"data":{"name":"in_ct"},"mark":{"type":"circle","color":"#5b8a2b","size":38,"opacity":1},
      "encoding":{"x":{"field":"x","type":"quantitative","scale":{"type":"log"},"axis":null},"y":{"field":"y","type":"quantitative","scale":{"type":"log"},"axis":null}}},
     {"data":{"values":[{"x":1e-13,"y":0.0483},{"x":1.07e-9,"y":1.02}]},"mark":{"type":"line","color":"black","strokeWidth":1.4},
      "encoding":{
       "x":{"field":"x","type":"quantitative","scale":{"type":"log","domain":[1e-13,1e-8],"nice":false},"axis":{"orient":"bottom","values":[2e-13,3e-13,4e-13,5e-13,6e-13,7e-13,8e-13,9e-13,2e-12,3e-12,4e-12,5e-12,6e-12,7e-12,8e-12,9e-12,2e-11,3e-11,4e-11,5e-11,6e-11,7e-11,8e-11,9e-11,2e-10,3e-10,4e-10,5e-10,6e-10,7e-10,8e-10,9e-10,2e-9,3e-9,4e-9,5e-9,6e-9,7e-9,8e-9,9e-9],"labels":false,"domain":false,"tickSize":-4,"title":null}},
       "y":{"field":"y","type":"quantitative","scale":{"type":"log","domain":[0.01,1],"nice":false},"axis":{"orient":"left","values":[0.02,0.03,0.04,0.05,0.06,0.07,0.08,0.09,0.2,0.3,0.4,0.5,0.6,0.7,0.8,0.9],"labels":false,"domain":false,"tickSize":-4,"title":null}}}},
     {"data":{"values":[{"x":0.167e-12,"y":0.111,"a":"~ τ","b":"0.33"}]},"mark":{"type":"text","align":"left","baseline":"middle","fontSize":16},
      "encoding":{"x":{"field":"x","type":"quantitative","scale":{"type":"log"},"axis":null},"y":{"field":"y","type":"quantitative","scale":{"type":"log"},"axis":null},"text":{"field":"a"}}},
     {"data":{"values":[{"x":0.167e-12,"y":0.111,"a":"~ τ","b":"0.33"}]},"mark":{"type":"text","align":"left","baseline":"middle","fontSize":12,"dx":27,"dy":-5},
      "encoding":{"x":{"field":"x","type":"quantitative","scale":{"type":"log"},"axis":null},"y":{"field":"y","type":"quantitative","scale":{"type":"log"},"axis":null},"text":{"field":"b"}}}
    ],
    "resolve":{"axis":{"x":"independent","y":"independent"}}},
   {"width":357,"height":253,
    "layer":[
     {"data":{"name":"in_cl"},"mark":{"type":"line","color":"#5b8a2b","strokeWidth":6,"strokeCap":"round","strokeJoin":"round"},
      "encoding":{
       "x":{"field":"x","type":"quantitative","scale":{"type":"log","domain":[1e-9,1e-5],"nice":false},"axis":{"orient":"bottom","values":[1e-9,1e-8,1e-7,1e-6,1e-5],"format":"~s","title":"phonon mean free path Λ [m]"}},
       "y":{"field":"y","type":"quantitative","scale":{"type":"log","domain":[0.01,1],"nice":false},"axis":{"orient":"left","values":[0.01,0.1,1],"format":"~g","title":"norm. cumul. cond. κΣ(Λ)/κ [–]"}}}},
     {"data":{"name":"in_cl"},"mark":{"type":"circle","color":"#5b8a2b","size":38,"opacity":1},
      "encoding":{"x":{"field":"x","type":"quantitative","scale":{"type":"log"},"axis":null},"y":{"field":"y","type":"quantitative","scale":{"type":"log"},"axis":null}}},
     {"data":{"values":[{"x":1e-9,"y":0.074},{"x":2.95e-6,"y":1.03}]},"mark":{"type":"line","color":"black","strokeWidth":1.4},
      "encoding":{
       "x":{"field":"x","type":"quantitative","scale":{"type":"log","domain":[1e-9,1e-5],"nice":false},"axis":{"orient":"bottom","values":[2e-9,3e-9,4e-9,5e-9,6e-9,7e-9,8e-9,9e-9,2e-8,3e-8,4e-8,5e-8,6e-8,7e-8,8e-8,9e-8,2e-7,3e-7,4e-7,5e-7,6e-7,7e-7,8e-7,9e-7,2e-6,3e-6,4e-6,5e-6,6e-6,7e-6,8e-6,9e-6],"labels":false,"domain":false,"tickSize":-4,"title":null}},
       "y":{"field":"y","type":"quantitative","scale":{"type":"log","domain":[0.01,1],"nice":false},"axis":{"orient":"left","values":[0.02,0.03,0.04,0.05,0.06,0.07,0.08,0.09,0.2,0.3,0.4,0.5,0.6,0.7,0.8,0.9],"labels":false,"domain":false,"tickSize":-4,"title":null}}}},
     {"data":{"values":[{"x":1.47e-9,"y":0.14,"a":"~ Λ","b":"0.33"}]},"mark":{"type":"text","align":"left","baseline":"middle","fontSize":16},
      "encoding":{"x":{"field":"x","type":"quantitative","scale":{"type":"log"},"axis":null},"y":{"field":"y","type":"quantitative","scale":{"type":"log"},"axis":null},"text":{"field":"a"}}},
     {"data":{"values":[{"x":1.47e-9,"y":0.14,"a":"~ Λ","b":"0.33"}]},"mark":{"type":"text","align":"left","baseline":"middle","fontSize":12,"dx":27,"dy":-7},
      "encoding":{"x":{"field":"x","type":"quantitative","scale":{"type":"log"},"axis":null},"y":{"field":"y","type":"quantitative","scale":{"type":"log"},"axis":null},"text":{"field":"b"}}}
    ],
    "resolve":{"axis":{"x":"independent","y":"independent"}}}
  ]
 },
 {"width":1243,"height":19.3,"data":{"values":[{"divider":"row 2 / row 3"}]},"mark":{"type":"rule","color":"#8c8c8c","strokeWidth":1.5},
  "encoding":{"y":{"datum":0,"type":"quantitative","scale":{"domain":[-0.508,1]},"axis":null},
   "x":{"datum":-0.0802,"type":"quantitative","scale":{"domain":[0,1]},"axis":null},"x2":{"datum":1}}},
 {
  "title":{"text":"SiGe (β = 1.35 , α = 1.65)","color":"#c6612b","fontSize":22,"fontWeight":"bold","anchor":"middle","dx":-6,"offset":13.5},
  "bounds":"flush","spacing":130.5,
  "hconcat":[
   {"width":241,"height":253,
    "layer":[
     {"data":{"name":"sg_tau"},"mark":{"type":"point","shape":"circle","filled":false,"size":26,"strokeWidth":1,"color":"#c0581f"},
      "encoding":{
       "x":{"field":"x","type":"quantitative","scale":{"type":"log","domain":[0.8,5],"nice":false},"axis":{"orient":"bottom","values":[0.8,1,2,5],"format":"~g","title":"phonon frequency ν = ω/2π [THz]"}},
       "y":{"field":"y","type":"quantitative","scale":{"type":"log","domain":[1e-13,1e-9],"nice":false},"axis":{"orient":"left","values":[1e-13,1e-12,1e-11,1e-10,1e-9],"format":"~s","title":"phonon relaxation time τ [s]"}}}},
     {"data":{"values":[{"x":0.8,"y":5.8e-10},{"x":5,"y":1.24e-13}]},"mark":{"type":"line","color":"black","strokeWidth":1.7},
      "encoding":{
       "x":{"field":"x","type":"quantitative","scale":{"type":"log","domain":[0.8,5],"nice":false},"axis":{"orient":"bottom","values":[0.9,3,4],"labels":false,"domain":false,"tickSize":-4,"title":null}},
       "y":{"field":"y","type":"quantitative","scale":{"type":"log","domain":[1e-13,1e-9],"nice":false},"axis":{"orient":"left","values":[2e-13,3e-13,4e-13,5e-13,6e-13,7e-13,8e-13,9e-13,2e-12,3e-12,4e-12,5e-12,6e-12,7e-12,8e-12,9e-12,2e-11,3e-11,4e-11,5e-11,6e-11,7e-11,8e-11,9e-11,2e-10,3e-10,4e-10,5e-10,6e-10,7e-10,8e-10,9e-10],"labels":false,"domain":false,"tickSize":-4,"title":null}}}},
     {"data":{"values":[{"x":3.25,"y":1.5e-12,"a":"ω","b":"−4.62"}]},"mark":{"type":"text","align":"left","baseline":"middle","fontSize":16},
      "encoding":{"x":{"field":"x","type":"quantitative","scale":{"type":"log"},"axis":null},"y":{"field":"y","type":"quantitative","scale":{"type":"log"},"axis":null},"text":{"field":"a"}}},
     {"data":{"values":[{"x":3.25,"y":1.5e-12,"a":"ω","b":"−4.62"}]},"mark":{"type":"text","align":"left","baseline":"middle","fontSize":12,"dx":11,"dy":-7},
      "encoding":{"x":{"field":"x","type":"quantitative","scale":{"type":"log"},"axis":null},"y":{"field":"y","type":"quantitative","scale":{"type":"log"},"axis":null},"text":{"field":"b"}}}
    ],
    "resolve":{"axis":{"x":"independent","y":"independent"}}},
   {"width":358,"height":253,
    "layer":[
     {"data":{"name":"sg_ct"},"mark":{"type":"line","color":"#c0581f","strokeWidth":6,"strokeCap":"round","strokeJoin":"round"},
      "encoding":{
       "x":{"field":"x","type":"quantitative","scale":{"type":"log","domain":[1e-13,1e-8],"nice":false},"axis":{"orient":"bottom","values":[1e-13,1e-12,1e-11,1e-10,1e-9,1e-8],"format":"~s","title":"phonon relaxation time τ [s]"}},
       "y":{"field":"y","type":"quantitative","scale":{"type":"log","domain":[0.01,1],"nice":false},"axis":{"orient":"left","values":[0.01,0.1,1],"format":"~g","title":"norm. cumul. cond. κΣ(τ)/κ [–]"}}}},
     {"data":{"name":"sg_ct"},"mark":{"type":"circle","color":"#c0581f","size":38,"opacity":1},
      "encoding":{"x":{"field":"x","type":"quantitative","scale":{"type":"log"},"axis":null},"y":{"field":"y","type":"quantitative","scale":{"type":"log"},"axis":null}}},
     {"data":{"values":[{"x":1e-13,"y":0.0277},{"x":3.07e-9,"y":1.03}]},"mark":{"type":"line","color":"black","strokeWidth":1.4},
      "encoding":{
       "x":{"field":"x","type":"quantitative","scale":{"type":"log","domain":[1e-13,1e-8],"nice":false},"axis":{"orient":"bottom","values":[2e-13,3e-13,4e-13,5e-13,6e-13,7e-13,8e-13,9e-13,2e-12,3e-12,4e-12,5e-12,6e-12,7e-12,8e-12,9e-12,2e-11,3e-11,4e-11,5e-11,6e-11,7e-11,8e-11,9e-11,2e-10,3e-10,4e-10,5e-10,6e-10,7e-10,8e-10,9e-10,2e-9,3e-9,4e-9,5e-9,6e-9,7e-9,8e-9,9e-9],"labels":false,"domain":false,"tickSize":-4,"title":null}},
       "y":{"field":"y","type":"quantitative","scale":{"type":"log","domain":[0.01,1],"nice":false},"axis":{"orient":"left","values":[0.02,0.03,0.04,0.05,0.06,0.07,0.08,0.09,0.2,0.3,0.4,0.5,0.6,0.7,0.8,0.9],"labels":false,"domain":false,"tickSize":-4,"title":null}}}},
     {"data":{"values":[{"x":0.516e-12,"y":0.0443,"a":"~ τ","b":"0.35"}]},"mark":{"type":"text","align":"left","baseline":"middle","fontSize":16},
      "encoding":{"x":{"field":"x","type":"quantitative","scale":{"type":"log"},"axis":null},"y":{"field":"y","type":"quantitative","scale":{"type":"log"},"axis":null},"text":{"field":"a"}}},
     {"data":{"values":[{"x":0.516e-12,"y":0.0443,"a":"~ τ","b":"0.35"}]},"mark":{"type":"text","align":"left","baseline":"middle","fontSize":12,"dx":27,"dy":-5},
      "encoding":{"x":{"field":"x","type":"quantitative","scale":{"type":"log"},"axis":null},"y":{"field":"y","type":"quantitative","scale":{"type":"log"},"axis":null},"text":{"field":"b"}}}
    ],
    "resolve":{"axis":{"x":"independent","y":"independent"}}},
   {"width":357,"height":253,
    "layer":[
     {"data":{"name":"sg_cl"},"mark":{"type":"line","color":"#c0581f","strokeWidth":6,"strokeCap":"round","strokeJoin":"round"},
      "encoding":{
       "x":{"field":"x","type":"quantitative","scale":{"type":"log","domain":[1e-10,1e-4],"nice":false},"axis":{"orient":"bottom","values":[1e-10,1e-9,1e-8,1e-7,1e-6,1e-5,1e-4],"format":"~s","title":"phonon mean free path Λ [m]"}},
       "y":{"field":"y","type":"quantitative","scale":{"type":"log","domain":[0.01,1],"nice":false},"axis":{"orient":"left","values":[0.01,0.1,1],"format":"~g","title":"norm. cumul. cond. κΣ(Λ)/κ [–]"}}}},
     {"data":{"name":"sg_cl"},"mark":{"type":"circle","color":"#c0581f","size":38,"opacity":1},
      "encoding":{"x":{"field":"x","type":"quantitative","scale":{"type":"log"},"axis":null},"y":{"field":"y","type":"quantitative","scale":{"type":"log"},"axis":null}}},
     {"data":{"values":[{"x":1e-10,"y":0.0163},{"x":13.2e-6,"y":1.0}]},"mark":{"type":"line","color":"black","strokeWidth":1.4},
      "encoding":{
       "x":{"field":"x","type":"quantitative","scale":{"type":"log","domain":[1e-10,1e-4],"nice":false},"axis":{"orient":"bottom","values":[2e-10,3e-10,4e-10,5e-10,6e-10,7e-10,8e-10,9e-10,2e-9,3e-9,4e-9,5e-9,6e-9,7e-9,8e-9,9e-9,2e-8,3e-8,4e-8,5e-8,6e-8,7e-8,8e-8,9e-8,2e-7,3e-7,4e-7,5e-7,6e-7,7e-7,8e-7,9e-7,2e-6,3e-6,4e-6,5e-6,6e-6,7e-6,8e-6,9e-6,2e-5,3e-5,4e-5,5e-5,6e-5,7e-5,8e-5,9e-5],"labels":false,"domain":false,"tickSize":-4,"title":null}},
       "y":{"field":"y","type":"quantitative","scale":{"type":"log","domain":[0.01,1],"nice":false},"axis":{"orient":"left","values":[0.02,0.03,0.04,0.05,0.06,0.07,0.08,0.09,0.2,0.3,0.4,0.5,0.6,0.7,0.8,0.9],"labels":false,"domain":false,"tickSize":-4,"title":null}}}},
     {"data":{"values":[{"x":3.04e-9,"y":0.0425,"a":"~ Λ","b":"0.35"}]},"mark":{"type":"text","align":"left","baseline":"middle","fontSize":16},
      "encoding":{"x":{"field":"x","type":"quantitative","scale":{"type":"log"},"axis":null},"y":{"field":"y","type":"quantitative","scale":{"type":"log"},"axis":null},"text":{"field":"a"}}},
     {"data":{"values":[{"x":3.04e-9,"y":0.0425,"a":"~ Λ","b":"0.35"}]},"mark":{"type":"text","align":"left","baseline":"middle","fontSize":12,"dx":27,"dy":-7},
      "encoding":{"x":{"field":"x","type":"quantitative","scale":{"type":"log"},"axis":null},"y":{"field":"y","type":"quantitative","scale":{"type":"log"},"axis":null},"text":{"field":"b"}}}
    ],
    "resolve":{"axis":{"x":"independent","y":"independent"}}}
  ]
 }
],
"spacing":12
}
